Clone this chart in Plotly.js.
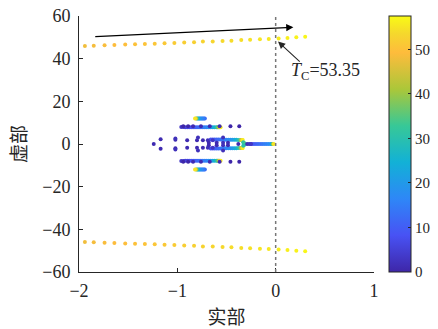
<!DOCTYPE html>
<html>
<head>
<meta charset="utf-8">
<script src="https://cdn.plot.ly/plotly-3.0.1.min.js"></script>
<style>html,body{margin:0;padding:0;background:#fff;}#chart{width:438px;height:329px;}</style>
</head>
<body>
<div id="chart"></div>
<script>
// Far (critical) mode, upper half; lower half is its conjugate
const farX = [-1.94,-1.85,-1.74,-1.64,-1.53,-1.43,-1.33,-1.23,-1.13,-1.03,-0.93,-0.83,-0.74,-0.64,-0.54,-0.45,-0.35,-0.26,-0.16,-0.07,0.03,0.12,0.21,0.30];
const farY = [45.9,46.1,46.25,46.4,46.6,46.7,46.9,47.0,47.2,47.35,47.6,47.7,48.0,48.1,48.3,48.4,48.75,48.9,49.05,49.2,49.4,49.7,50.0,50.3];
const farT = [48.0,48.4,48.8,49.2,49.6,50.0,50.4,50.8,51.2,51.6,52.0,52.4,52.8,53.2,53.6,54.0,54.3,54.7,55.1,55.4,55.8,56.2,56.5,56.9];

// Cluster branches near the origin (upper half, conjugated below)
const b1X = [-0.96,-0.94,-0.92,-0.90,-0.88,-0.86,-0.84,-0.82,-0.80,-0.78,-0.76,-0.74,-0.72,-0.70,-0.68,-0.66,-0.64,-0.62,-0.60,-0.59,-0.58,-0.57,-0.56];
const b1Y = [8.0,8.0,7.9,7.9,7.9,7.8,7.8,7.8,7.8,7.8,7.8,7.8,7.8,7.8,7.8,7.8,7.8,7.8,7.8,7.8,7.8,7.8,7.8];
const b1T = [3,4,5,6,7,8,9,10,11,12,13,14,15,16,18,20,22,25,29,34,40,48,56];

const b2X = [-0.72,-0.73,-0.74,-0.75,-0.76,-0.77,-0.78,-0.79,-0.80,-0.81,-0.82];
const b2Y = [12.0,12.0,12.0,12.0,12.0,12.0,12.0,12.0,12.0,12.0,12.0];
const b2T = [12,14,15,16,17,18,20,24,32,44,55];

const b3X = [-0.66,-0.64,-0.62,-0.60,-0.58,-0.56,-0.54,-0.52,-0.50,-0.48,-0.46,-0.44,-0.42,-0.40,-0.38,-0.36,-0.35,-0.34,-0.335];
const b3Y = [2.1,2.1,2.1,2.1,2.1,2.1,2.0,2.0,2.0,2.0,2.0,2.0,2.0,2.0,1.9,1.9,1.9,1.9,1.9];
const b3T = [8,9,10,11,12,13,14,15,16,17,18,20,22,25,29,36,44,52,56];

const darkX = [-1.17,-1.02,-1.02,-0.90,-0.80,-0.79,-0.74,-0.69,-0.64,-0.68,-0.60,-0.535,-0.485,-0.535,-0.94,-0.89,-0.84,-0.76,-0.67,-0.57,-0.46,-0.37];
const darkY = [2.2,2.0,2.6,1.7,1.7,3.0,1.7,1.7,1.7,0.6,0.6,0.6,0.6,3.0,8.3,8.3,8.3,8.3,8.3,8.3,8.3,8.3];
const darkT = [1,1,2,1,1,2,1,2,3,1,1,2,1,2,0,0,1,1,1,1,0,0];

// Real-axis branches
const b4X = [-0.25,-0.23,-0.21,-0.19,-0.17,-0.15,-0.13,-0.11,-0.09,-0.07,-0.05,-0.04,-0.03,-0.02];
const b4Y = [0,0,0,0,0,0,0,0,0,0,0,0,0,0];
const b4T = [8,9,10,11,12,13,14,15,16,17,19,24,38,55];

const b5X = [-0.33,-0.32,-0.315,-0.31,-0.32,-0.33];
const b5Y = [0.8,0.5,0,0,-0.5,-0.8];
const b5T = [30,32,33,34,32,30];

const realDarkX = [-1.24,-0.38,-0.29,-0.27,-0.25];
const realDarkY = [0,0,0,0,0];
const realDarkT = [1,1,1,2,3];

const Tc = 53.35;
const cRange = [0, 57.5];

const parula = [
  [0.0,'rgb(62,38,168)'],[0.143,'rgb(72,82,244)'],[0.286,'rgb(46,135,247)'],
  [0.429,'rgb(18,177,214)'],[0.571,'rgb(55,200,151)'],[0.714,'rgb(171,199,57)'],
  [0.857,'rgb(254,188,60)'],[0.93,'rgb(245,215,45)'],[1.0,'rgb(249,251,21)']
];

function conj(xs, ys, ts) {
  return {x: xs.concat(xs), y: ys.concat(ys.map(v => -v)), t: ts.concat(ts)};
}
const groups = [
  conj(farX, farY, farT),
  conj(b1X, b1Y, b1T),
  conj(b2X, b2Y, b2T),
  conj(b3X, b3Y, b3T),
  {x: b5X, y: b5Y, t: b5T},
  {x: b4X, y: b4Y, t: b4T},
  {x: realDarkX, y: realDarkY, t: realDarkT},
  conj(darkX, darkY, darkT)
];
let X = [], Y = [], C = [];
groups.forEach(g => { X = X.concat(g.x); Y = Y.concat(g.y); C = C.concat(g.t); });

const trace = {
  type: 'scatter', mode: 'markers', x: X, y: Y,
  marker: {
    size: 4, color: C, colorscale: parula, cmin: cRange[0], cmax: cRange[1],
    line: {width: 0},
    showscale: true,
    colorbar: {
      x: 1.0508, xanchor: 'left', xpad: 0, ypad: 0,
      y: 0.5, yanchor: 'middle', len: 1, lenmode: 'fraction',
      thickness: 22, thicknessmode: 'pixels',
      outlinewidth: 1, outlinecolor: '#262626',
      tickmode: 'array', tickvals: [0,10,20,30,40,50],
      ticks: 'inside', ticklen: 3, tickcolor: '#262626',
      tickfont: {family: 'Liberation Serif', size: 15, color: '#262626'}
    }
  },
  hoverinfo: 'skip', showlegend: false
};

const layout = {
  width: 438, height: 329,
  margin: {l: 79, r: 64, t: 16, b: 57, autoexpand: false},
  paper_bgcolor: '#fff', plot_bgcolor: '#fff',
  font: {family: 'Liberation Serif', size: 18, color: '#262626'},
  xaxis: {
    range: [-2, 1], tickvals: [-2,-1,0,1], showgrid: false, zeroline: false,
    showline: true, linecolor: '#262626', linewidth: 1,
    ticks: 'inside', ticklen: 4, tickcolor: '#262626',
    ticklabelstandoff: 2,
    title: {text: '实部', font: {family: 'Noto Sans CJK SC', size: 19, color: '#262626'}, standoff: 14}
  },
  yaxis: {
    range: [-60, 60], tickvals: [-60,-40,-20,0,20,40,60], showgrid: false, zeroline: false,
    showline: true, linecolor: '#262626', linewidth: 1,
    ticks: 'inside', ticklen: 4, tickcolor: '#262626',
    ticklabelstandoff: 4,
    title: {text: '虚部', font: {family: 'Noto Sans CJK SC', size: 19, color: '#262626'}, standoff: 10}
  },
  shapes: [{
    type: 'line', xref: 'x', yref: 'y', x0: 0, x1: 0, y0: -60, y1: 60,
    line: {color: '#777', width: 1.5, dash: 'dot'}
  }],
  annotations: [
    {xref: 'x', yref: 'y', axref: 'x', ayref: 'y', x: 0.18, y: 54.7, ax: -1.85, ay: 50.3,
     text: '', showarrow: true, arrowhead: 2, arrowsize: 1.3, arrowwidth: 1.1, arrowcolor: '#000'},
    {xref: 'x', yref: 'y', axref: 'x', ayref: 'y', x: 0.024, y: 48, ax: 0.26, ay: 38,
     text: '', showarrow: true, arrowhead: 2, arrowsize: 1.3, arrowwidth: 1.1, arrowcolor: '#262626'},
    {xref: 'x', yref: 'y', x: 0.505, y: 34, xanchor: 'center', yanchor: 'middle',
     text: '<i>T</i><sub>C</sub>=' + Tc.toFixed(2), showarrow: false,
     font: {family: 'Liberation Serif', size: 18, color: '#262626'}}
  ]
};

Plotly.newPlot('chart', [trace], layout, {staticPlot: true, displayModeBar: false});
</script>
</body>
</html>
